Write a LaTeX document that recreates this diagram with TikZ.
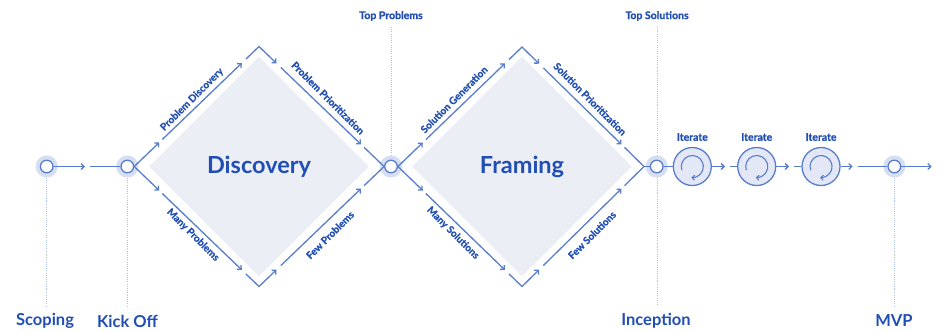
\documentclass[tikz,border=0pt]{standalone}
\usepackage{fontspec}
\setmainfont{Lato}
\newfontfamily\smallfont{Lato}[BoldFeatures={FakeBold=0.8}]
\usetikzlibrary{arrows.meta,calc,shapes.geometric}
\definecolor{lineblue}{RGB}{88,125,205}
\definecolor{textblue}{RGB}{32,78,180}
\definecolor{halo}{RGB}{214,223,242}
\definecolor{fillgray}{RGB}{236,238,246}
\definecolor{iterfill}{RGB}{228,232,246}
\definecolor{dotblue}{RGB}{175,192,230}
\tikzset{
  flow/.style={draw=lineblue, line width=1.3pt},
  tip/.tip={Straight Barb[length=3pt,width=6pt,line width=1.3pt]},
  milestone/.style={circle, draw=lineblue, fill=white, line width=1.3pt, minimum size=12.6pt, inner sep=0pt,
    preaction={draw=halo, line width=9.4pt}},
  iterbox/.style={circle, draw=lineblue, fill=iterfill, line width=1.3pt, minimum size=38pt, inner sep=0pt},
  dotline/.style={draw=dotblue, line width=0.8pt, dash pattern=on 1pt off 1.2pt},
  bigdiamond/.style={diamond, aspect=1, fill=fillgray, minimum width=220pt, minimum height=220pt, inner sep=0pt,
    text=textblue, font=\bfseries\fontsize{23.5}{25}\selectfont},
  edgelabel/.style={text=textblue, font=\smallfont\bfseries\fontsize{10}{12}\selectfont, inner sep=0pt},
  toplabel/.style={text=textblue, font=\smallfont\bfseries\fontsize{10.5}{12}\selectfont, inner sep=0pt},
  bottomlabel/.style={text=textblue, font=\bfseries\fontsize{16.5}{18}\selectfont, inner sep=0pt},
}
\begin{document}
\begin{tikzpicture}[x=1pt,y=-1pt]
\useasboundingbox (0,0) rectangle (941,330);

% dotted guide lines
\coordinate (scopbot) at (46.7,306);
\coordinate (kickbot) at (127.3,306);
\coordinate (tptop) at (391,27);
\coordinate (tstop) at (657,27);
\coordinate (tsbot) at (657,306);
\coordinate (mvpbot) at (894.3,306);
\draw[dotline] (46.7,178) -- (scopbot);
\draw[dotline] (127.3,178) -- (kickbot);
\draw[dotline] (tptop) -- (391,155);
\draw[dotline] (tstop) -- (tsbot);
\draw[dotline] (894.3,178) -- (mvpbot);

% diamonds (fill)
\node[bigdiamond] (disc) at (259,166.5) {Discovery};
\node[bigdiamond] (fram) at (522,166.5) {Framing};

% milestones
\node[milestone] (scop) at (46.7,166.5) {};
\node[milestone] (kick) at (127.3,166.5) {};
\node[milestone] (tp) at (391,166.5) {};
\node[milestone] (incep) at (656.7,166.5) {};
\node[milestone] (mvp) at (894.3,166.5) {};

% iterate circles
\node[iterbox] (it1) at (692.3,166.5) {};
\node[iterbox] (it2) at (756.7,166.5) {};
\node[iterbox] (it3) at (821,166.5) {};
\foreach \ic in {it1,it2,it3}{
  \draw[lineblue, line width=1.1pt, -{Straight Barb[length=2.5pt,width=5pt,line width=1.1pt]}]
    ($(\ic)+(200:11pt)$) arc[start angle=200, end angle=-95, radius=11pt];
}

% diamond vertices
\coordinate (D1-L) at (kick.east);
\coordinate (D1-T) at (259,46.5);
\coordinate (D1-R) at (tp.west);
\coordinate (D1-B) at (259,286.5);
\coordinate (D2-L) at (tp.east);
\coordinate (D2-T) at (522,47);
\coordinate (D2-R) at (644,166.5);
\coordinate (D2-B) at (522,286.5);

\foreach \di in {D1,D2}{
  \foreach \ve in {T,B}{
    \draw[flow,-tip] (\di-L) -- ($(\di-L)!0.2!(\di-\ve)$);
    \draw[flow,-tip] ($(\di-L)!0.225!(\di-\ve)$) -- ($(\di-L)!0.862!(\di-\ve)$);
    \draw[flow,-tip] ($(\di-L)!0.895!(\di-\ve)$) -- (\di-\ve) -- ($(\di-\ve)!0.14!(\di-R)$);
    \draw[flow,-tip] ($(\di-\ve)!0.175!(\di-R)$) -- ($(\di-\ve)!0.815!(\di-R)$);
    \draw[flow] ($(\di-\ve)!0.84!(\di-R)$) -- (\di-R);
  }
}
\draw[flow] (D2-R) -- (incep);

% horizontal connectors
\coordinate (g0) at (85,166.5);
\coordinate (g0b) at (90,166.5);
\draw[flow,-tip] (scop) -- (g0);
\draw[flow] (g0b) -- (kick);
\draw[flow] (incep) -- (it1);
\coordinate (g1) at (725,166.5);
\coordinate (g1b) at (730,166.5);
\draw[flow,-tip] (it1) -- (g1);
\draw[flow] (g1b) -- (it2);
\coordinate (g2) at (789,166.5);
\coordinate (g2b) at (794,166.5);
\draw[flow,-tip] (it2) -- (g2);
\draw[flow] (g2b) -- (it3);
\coordinate (g3) at (852.7,166.5);
\coordinate (g3b) at (857.7,166.5);
\draw[flow,-tip] (it3) -- (g3);
\draw[flow] (g3b) -- (mvp);
\coordinate (gend) at (931.7,166.5);
\draw[flow,-tip] (mvp) -- (gend);

% edge labels
\node[edgelabel, rotate=45] (l1) at (192,99.5) {Problem Discovery};
\node[edgelabel, rotate=-45] (l2) at (328,98) {Problem Prioritization};
\node[edgelabel, rotate=-45] (l3) at (193,235) {Many Problems};
\node[edgelabel, rotate=45] (l4) at (330,235) {Few Problems};
\node[edgelabel, rotate=45] (l5) at (454,99.5) {Solution Generation};
\node[edgelabel, rotate=-45] (l6) at (590,99) {Solution Prioritization};
\node[edgelabel, rotate=-45] (l7) at (453,233) {Many Solutions};
\node[edgelabel, rotate=45] (l8) at (592,235) {Few Solutions};

% top labels
\node[toplabel] (ttp) at (391,16) {Top Problems};
\node[toplabel] (tts) at (657,16) {Top Solutions};
\node[toplabel] (ti1) at (692.3,137) {Iterate};
\node[toplabel] (ti2) at (756.7,137) {Iterate};
\node[toplabel] (ti3) at (821,137) {Iterate};

% bottom labels
\node[bottomlabel] (bs) at (45,321) {Scoping};
\node[bottomlabel] (bk) at (127.5,321) {Kick Off};
\node[bottomlabel] (bi) at (656,321) {Inception};
\node[bottomlabel] (bm) at (894,321) {MVP};
\end{tikzpicture}
\end{document}
